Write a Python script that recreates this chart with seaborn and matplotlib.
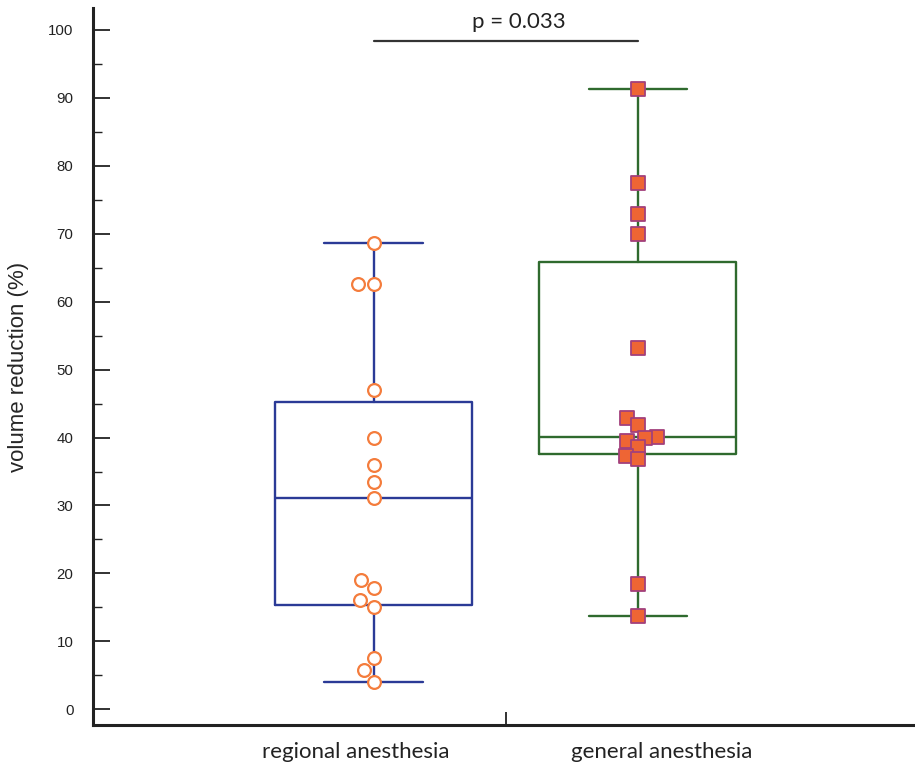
import numpy as np
import pandas as pd
import matplotlib
matplotlib.use("Agg")
import matplotlib.pyplot as plt
import matplotlib.transforms as mtransforms
import seaborn as sns
from matplotlib.ticker import MultipleLocator, FixedLocator

# ---- data ----
categories = ["regional anesthesia", "general anesthesia"]
regional = [68.6, 62.6, 62.6, 47.0, 40.0, 36.0, 33.4, 31.1, 19.1, 17.8, 16.1, 15.1, 7.6, 5.8, 4.0]
general = [91.3, 77.5, 72.9, 70.0, 53.1, 42.8, 41.9, 40.1, 40.0, 39.5, 38.6, 37.3, 36.9, 18.5, 13.7]
p_text = "p = 0.033"
y_label = "volume reduction (%)"

box_colors = ["#2B3A96", "#2F6A2E"]
orange = "#F47C3C"
square_fill = "#EE6534"
square_edge = "#A2407C"

df = pd.DataFrame({
    "group": [categories[0]] * len(regional) + [categories[1]] * len(general),
    "value": regional + general,
})

sns.set_style("ticks")
plt.rcParams["font.family"] = ["Liberation Sans", "DejaVu Sans"]

fig = plt.figure(figsize=(9.15, 7.67), dpi=100)
ax = fig.add_axes([93 / 915, 1 - 725 / 767, 1 - 93 / 915, (725 - 8) / 767])

# ---- boxes (quartiles with hazen method, whiskers min..max) ----
for i, (name, vals) in enumerate(zip(categories, [regional, general])):
    v = np.asarray(vals)
    q1, med, q3 = np.percentile(v, [25, 50, 75], method="hazen")
    st = [dict(med=med, q1=q1, q3=q3, whislo=v.min(), whishi=v.max(), fliers=[], label=name)]
    c = box_colors[i]
    lp = dict(color=c, linewidth=1.7)
    ax.bxp(st, positions=[i], widths=0.745, capwidths=[0.372], showfliers=False,
           boxprops=lp, whiskerprops=lp, capprops=lp, medianprops=lp,
           manage_ticks=False, zorder=2)

# ---- points ----
sns.swarmplot(data=df[df["group"] == categories[0]], x="group", y="value", order=categories,
              marker="o", size=9.2, color="white", edgecolor=orange, linewidth=1.6,
              ax=ax, zorder=3)
sns.swarmplot(data=df[df["group"] == categories[1]], x="group", y="value", order=categories,
              marker="s", size=7.0, color=square_fill, edgecolor=square_edge, linewidth=1.3,
              ax=ax, zorder=3)

# ---- axes styling ----
ax.set_xlim(-1.0625, 2.05)
ax.set_ylim(-2.3, 103.2)
ax.set_xlabel("")
ax.set_ylabel(y_label, fontsize=16, labelpad=14)

ax.yaxis.set_major_locator(MultipleLocator(10))
ax.yaxis.set_minor_locator(MultipleLocator(5))
ax.tick_params(axis="y", which="major", direction="in", length=12, width=1.3,
               labelsize=10.8, pad=14, colors="#222222")
ax.tick_params(axis="y", which="minor", direction="in", length=6.5, width=1.0, color="#222222")

ax.xaxis.set_major_locator(FixedLocator([0, 1]))
ax.set_xticklabels(categories, family=["Lato", "DejaVu Sans"], fontsize=16)
ax.xaxis.set_minor_locator(FixedLocator([0.5]))
ax.tick_params(axis="x", which="major", length=0, pad=12, colors="#222222")
ax.tick_params(axis="x", which="minor", direction="in", length=9.5, width=1.3, color="#222222")
for lab, dx in zip(ax.get_xticklabels(), [-18, 24]):
    lab.set_transform(lab.get_transform() + mtransforms.Affine2D().translate(dx, 0))

for s in ["top", "right"]:
    ax.spines[s].set_visible(False)
for s in ["left", "bottom"]:
    ax.spines[s].set_linewidth(2.2)
    ax.spines[s].set_color("#222222")

# ---- significance bracket ----
ax.plot([0, 1], [98.3, 98.3], color="#333333", linewidth=1.6, zorder=3, clip_on=False)
ax.text(0.55, 101.2, p_text, ha="center", va="center", fontsize=16,
        family=["Lato", "DejaVu Sans"], color="#222222")

# compute the general-group swarm with a tighter packing, then freeze it
fig.canvas.draw()
sq = ax.collections[-1]
if "draw" in sq.__dict__:
    del sq.draw
sq.set_sizes([9.4 ** 2])

fig.savefig("out.png", dpi=100)
